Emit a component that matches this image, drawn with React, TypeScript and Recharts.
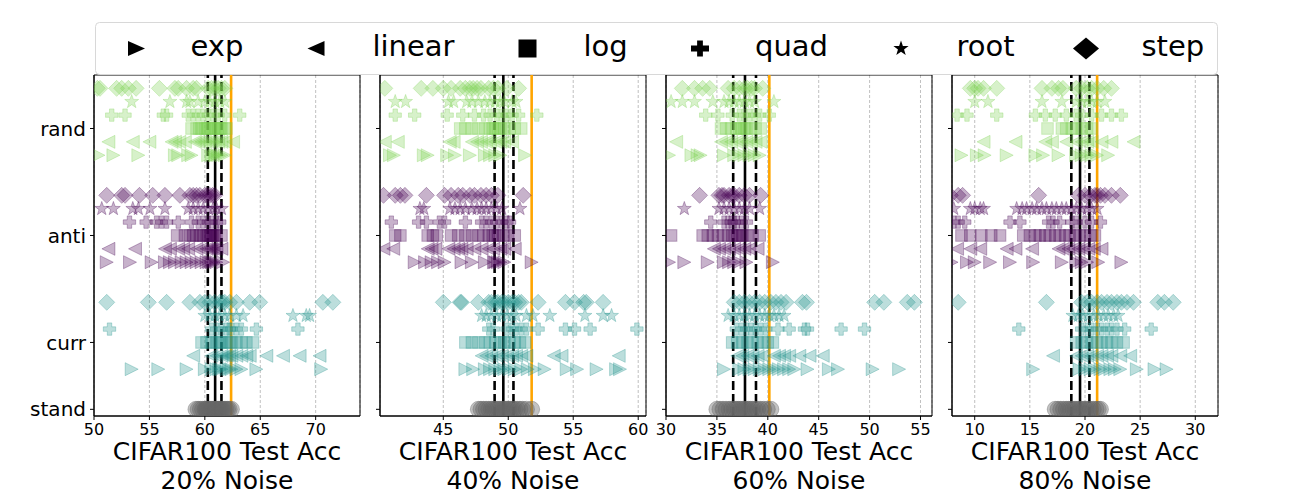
/* Strip plots of CIFAR100 test accuracy per curriculum ordering and pacing function */

import {
  ScatterChart,
  Scatter,
  XAxis,
  YAxis,
  CartesianGrid,
  ReferenceLine,
  ReferenceArea,
} from "recharts";

const FONT = "'DejaVu Sans', sans-serif";

// schedule order inside each group, bottom to top
const SCHEDULES = ["exp", "linear", "log", "quad", "root", "step"];
const ROW_OFFSET = [-2, -1, 0, 1, 2, 3];
const GROUP_CENTER = [21, 13, 5]; // rand, anti, curr
const GROUP_COLOR = ["#7ad151", "#440154", "#21918c"];
const STAND_COLOR = "#666666";
const Y_TICKS = [0, 5, 13, 21];
const Y_LABELS = ["stand", "curr", "anti", "rand"];

const NOISE_LEVELS = ["20%", "40%", "60%", "80%"];
const X_DOMAINS = [
  [50, 74],
  [40.13, 60.6],
  [30, 56.13],
  [7.94, 32.06],
];
const X_TICKS = [
  [50, 55, 60, 65, 70],
  [45, 50, 55, 60],
  [30, 35, 40, 45, 50, 55],
  [10, 15, 20, 25, 30],
];

// standard training: mean, mean - std, mean + std, best
const STAND_MEAN = [60.93, 49.62, 37.76, 19.55];
const STAND_LOW = [60.27, 48.95, 36.6, 18.76];
const STAND_HIGH = [61.5, 50.4, 38.84, 20.4];
const BEST = [62.37, 51.8, 40.15, 21.1];

// ---- 20% noise ---- rows: exp, linear, log, quad, root, step
const RAND_20 = [
  [50.4, 51.75, 54.0, 57.3, 57.6, 58.5, 58.8, 60.3, 60.6, 60.9, 61.0, 61.2, 61.5, 61.8],
  [51.3, 53.5, 55.0, 57.0, 57.3, 57.7, 58.2, 59.1, 59.4, 59.7, 60.0, 60.3, 60.6, 60.9, 61.2, 61.5, 61.8, 62.55],
  [58.8, 59.25, 59.5, 59.7, 60.0, 60.2, 60.3, 60.6, 60.8, 60.9, 61.2, 61.4, 61.5, 61.8, 61.95],
  [51.6, 52.8, 56.25, 56.55, 58.5, 58.95, 59.4, 59.85, 60.3, 60.75, 61.2, 61.8, 63.15],
  [53.4, 56.85, 58.35, 58.65, 59.4, 60.0, 60.45, 60.9, 61.35, 61.8],
  [50.3, 50.54, 52.04, 52.5, 53.1, 53.8, 55.9, 57.3, 57.6, 58.35, 58.95, 59.25, 60.3, 60.6, 60.9, 61.2, 61.5, 61.8],
];
const ANTI_20 = [
  [51.15, 53.25, 55.2, 56.4, 56.85, 57.3, 57.9, 58.35, 58.8, 59.25, 59.7, 60.15, 60.4, 60.6, 60.8, 61.05, 61.65],
  [51.3, 53.7, 56.4, 56.85, 57.6, 58.05, 58.5, 59.25, 59.7, 60.15, 60.4, 60.6, 60.8, 61.05, 61.5],
  [57.5, 58.2, 58.65, 58.95, 59.25, 59.55, 59.85, 60.15, 60.3, 60.45, 60.6, 60.75, 60.9, 61.05, 61.5],
  [53.2, 54.7, 55.65, 56.1, 56.55, 57.6, 58.8, 59.4, 59.85, 60.3, 60.6, 61.05, 61.35],
  [50.7, 51.75, 53.5, 54.0, 55.05, 56.4, 58.5, 58.95, 59.4, 59.85, 60.3, 60.75, 61.05, 61.5],
  [51.15, 52.5, 52.8, 54.1, 55.3, 56.4, 57.75, 58.65, 58.95, 59.25, 59.55, 60.0, 60.2, 60.45, 60.7, 60.9],
];
const CURR_20 = [
  [53.4, 55.8, 58.35, 60.0, 60.6, 61.05, 61.3, 61.5, 61.95, 62.2, 62.4, 62.85, 63.3, 64.65, 70.5],
  [58.95, 60.6, 61.05, 61.5, 61.8, 61.95, 62.2, 62.4, 62.85, 63.3, 63.75, 64.05, 65.55, 67.05, 68.55, 70.35],
  [59.7, 60.15, 60.6, 61.05, 61.3, 61.5, 61.95, 62.2, 62.4, 62.85, 63.3, 63.75, 64.35],
  [51.4, 60.6, 61.05, 61.5, 61.95, 62.2, 62.4, 62.85, 63.3, 64.65, 68.4],
  [60.0, 60.45, 60.9, 61.35, 61.8, 62.25, 62.85, 63.45, 67.95, 69.15, 69.45],
  [51.15, 54.9, 56.55, 58.65, 59.55, 60.0, 60.45, 60.9, 61.35, 61.6, 61.8, 62.25, 62.85, 64.05, 64.95, 70.65, 71.55],
];
const STAND_20 = [
  59.2, 59.4, 59.6, 59.8, 60.0, 60.1, 60.2, 60.35, 60.5, 60.6, 60.7, 60.8, 60.9, 61.0,
  61.1, 61.2, 61.3, 61.4, 61.5, 61.6, 61.75, 61.9, 62.05, 62.2, 62.4,
];

// ---- 40% noise ----
const RAND_40 = [
  [40.9, 41.2, 43.5, 43.8, 45.3, 45.9, 47.05, 48.2, 48.6, 49.0, 49.4, 51.3],
  [40.5, 41.5, 45.5, 45.8, 47.2, 47.6, 47.9, 48.3, 48.6, 49.0, 49.4, 49.7, 50.3],
  [46.3, 46.7, 47.2, 47.7, 48.2, 48.6, 48.8, 49.0, 49.2, 49.4, 49.7, 50.1, 50.5, 51.0],
  [41.3, 42.8, 45.3, 46.5, 47.4, 48.1, 48.6, 49.1, 49.5, 49.9, 50.3, 50.8, 52.2],
  [41.3, 42.1, 45.4, 45.8, 46.8, 47.2, 47.7, 48.2, 48.6, 49.0, 49.4, 49.7, 50.3, 50.6],
  [40.5, 43.3, 44.2, 45.0, 45.6, 46.3, 46.7, 47.05, 47.3, 47.6, 47.9, 48.5, 48.85, 49.2, 49.9, 50.8],
];
const ANTI_40 = [
  [42.8, 43.6, 44.1, 44.6, 45.1, 46.4, 47.2, 48.2, 48.9, 49.0, 49.2, 49.4, 49.7, 51.8],
  [40.4, 41.15, 43.8, 44.1, 44.4, 45.4, 45.8, 46.15, 46.4, 46.8, 47.4, 47.95, 48.5, 48.85, 49.4, 49.7, 50.5],
  [41.3, 41.7, 43.8, 44.2, 44.5, 45.6, 46.15, 46.7, 47.2, 47.7, 48.1, 48.5, 48.8, 49.0, 49.2, 49.6, 50.0, 50.5],
  [41.0, 43.1, 43.7, 44.7, 45.1, 46.7, 47.95, 48.3, 48.7, 49.1, 49.5, 49.9, 50.1],
  [43.2, 43.5, 45.5, 45.9, 46.3, 46.7, 47.2, 47.6, 47.95, 48.3, 48.7, 49.1, 49.5, 50.9],
  [40.4, 41.3, 41.7, 42.05, 43.7, 45.1, 45.6, 46.15, 46.5, 47.05, 47.4, 47.9, 48.3, 48.7, 49.2, 51.15],
];
const CURR_40 = [
  [46.7, 47.3, 48.2, 48.6, 49.0, 49.4, 49.7, 50.1, 50.5, 51.0, 51.5, 52.05, 52.8, 54.5, 55.3, 56.8, 58.3, 58.6],
  [47.95, 48.3, 48.7, 49.1, 49.5, 49.9, 50.3, 50.6, 51.0, 51.4, 53.5, 54.1, 58.5],
  [46.7, 47.2, 47.7, 48.2, 48.6, 49.0, 49.4, 49.7, 50.1, 50.5, 50.9, 51.3],
  [48.5, 48.85, 49.9, 50.3, 50.6, 51.0, 51.4, 52.3, 54.4, 55.1, 56.3, 59.9],
  [47.95, 48.3, 48.7, 49.1, 49.5, 49.9, 50.3, 50.6, 51.4, 51.9, 53.2, 55.9, 57.3, 57.95],
  [45.0, 46.3, 46.4, 47.7, 48.5, 48.7, 49.0, 49.2, 49.5, 49.7, 50.0, 50.3, 50.5, 50.8, 51.0, 52.3, 54.4, 55.1, 55.8, 56.0, 57.3],
];
const STAND_40 = [
  47.7, 47.9, 48.1, 48.3, 48.5, 48.7, 48.85, 49.0, 49.15, 49.3, 49.45, 49.6, 49.75,
  49.9, 50.05, 50.2, 50.35, 50.5, 50.7, 50.9, 51.1, 51.4, 51.8,
];

// ---- 60% noise ----
const RAND_60 = [
  [30.3, 32.5, 33.1, 33.4, 35.7, 36.7, 37.2, 37.7, 38.2, 38.7, 39.2],
  [31.0, 35.4, 35.9, 36.4, 36.9, 37.4, 37.9, 38.35, 38.8, 39.3],
  [35.4, 35.9, 36.4, 36.9, 37.2, 37.4, 37.7, 37.9, 38.35, 38.8, 39.3],
  [33.9, 35.1, 36.5, 37.2, 37.7, 38.2, 38.7, 39.2, 40.15],
  [30.5, 31.6, 32.8, 34.6, 35.7, 36.2, 36.7, 37.2, 37.7, 38.2, 38.7, 40.6],
  [31.6, 32.8, 33.6, 34.3, 36.1, 36.7, 37.2, 37.7, 38.0, 38.4, 38.7, 39.5],
];
const ANTI_60 = [
  [30.3, 31.8, 34.1, 35.7, 36.2, 36.7, 37.2, 37.9, 40.5],
  [34.7, 35.2, 35.7, 36.2, 36.7, 37.2, 37.7, 38.2, 39.0],
  [30.5, 33.6, 34.1, 34.6, 35.1, 35.6, 36.1, 36.5, 36.8, 37.0, 37.3, 37.5, 38.0, 38.5, 39.2],
  [34.4, 35.7, 36.1, 36.4, 36.7, 37.0, 37.4, 37.9],
  [31.8, 35.2, 35.7, 36.2, 36.7, 37.2, 37.7, 38.2, 39.2],
  [33.3, 35.2, 35.5, 35.7, 36.2, 36.5, 36.7, 37.2, 37.7, 38.2, 39.3],
];
const CURR_60 = [
  [35.7, 37.2, 37.7, 38.2, 38.7, 39.2, 39.7, 40.15, 40.6, 41.1, 41.6, 42.1, 42.6, 43.9, 46.0, 46.9, 50.3, 52.9],
  [37.0, 37.5, 38.0, 38.5, 39.0, 39.5, 40.6, 41.1, 41.6, 42.1, 43.1, 44.1, 45.4],
  [36.5, 37.0, 37.5, 38.0, 38.5, 39.0, 39.5, 40.0, 40.5],
  [36.9, 37.4, 37.9, 38.35, 38.8, 39.3, 39.8, 41.0, 42.1, 43.6, 43.9, 47.2, 49.5],
  [36.1, 36.7, 37.2, 37.7, 38.2, 38.7, 39.2, 39.7, 40.15, 40.6, 41.1, 41.6],
  [36.7, 37.2, 37.7, 38.2, 38.7, 39.2, 39.7, 40.3, 40.8, 41.3, 41.8, 43.4, 43.8, 50.5, 51.4, 53.7, 54.4],
];
const STAND_60 = [
  35.0, 35.3, 35.6, 35.9, 36.2, 36.45, 36.7, 36.9, 37.1, 37.3, 37.5, 37.7, 37.9, 38.1,
  38.3, 38.5, 38.75, 39.0, 39.3, 39.6, 39.95, 40.3,
];

// ---- 80% noise ----
const RAND_80 = [
  [8.8, 10.2, 10.9, 12.9, 15.5, 16.2, 17.6, 19.2, 19.7, 20.2, 20.6, 21.1, 22.1],
  [10.8, 13.7, 16.4, 17.0, 18.3, 19.2, 19.7, 20.2, 20.6, 21.5, 22.4, 24.4],
  [16.6, 17.9, 18.3, 18.8, 19.2, 19.7, 20.2, 20.6],
  [8.4, 9.3, 12.0, 15.5, 16.4, 17.3, 18.3, 19.2, 19.7, 20.6, 21.5, 22.4, 23.3],
  [10.0, 11.2, 16.1, 17.9, 19.2, 19.7, 20.2, 20.6, 21.1, 21.8],
  [9.6, 10.0, 10.3, 10.8, 12.0, 16.1, 17.0, 17.6, 18.0, 19.2, 19.7, 20.2, 20.6, 21.1, 21.7, 22.4],
];
const ANTI_80 = [
  [7.9, 9.3, 10.0, 11.4, 13.2, 15.3, 17.9, 19.2, 19.7, 20.2, 21.2, 23.3],
  [8.4, 9.6, 10.5, 12.9, 13.7, 15.2, 17.6, 18.0, 18.5, 18.9, 19.4, 19.8, 20.3, 20.8, 21.5],
  [8.8, 9.6, 10.6, 11.5, 12.3, 14.4, 15.0, 15.5, 15.9, 16.4, 16.8, 17.3, 17.7, 18.2, 18.6, 19.1, 19.5, 20.0, 20.5, 20.9],
  [8.1, 8.5, 9.1, 13.2, 14.1, 16.7, 17.1, 17.7, 18.8, 19.2, 20.0, 20.6, 21.4],
  [8.1, 9.6, 10.0, 10.5, 10.8, 13.8, 14.3, 14.7, 15.2, 15.6, 16.1, 16.5, 17.0, 17.4, 17.9, 18.3, 18.8, 19.2, 19.7, 20.2, 20.6, 21.1],
  [7.8, 8.5, 8.9, 15.8, 19.4, 20.0, 20.5, 20.9, 21.1, 21.4, 21.8, 22.4, 23.2],
];
const CURR_80 = [
  [15.3, 19.5, 20.0, 20.5, 20.9, 21.4, 21.8, 22.3, 22.7, 23.2, 24.7, 26.3, 27.4],
  [17.1, 19.2, 19.7, 20.2, 20.6, 21.1, 21.5, 22.0, 22.4, 23.2, 24.1],
  [19.2, 19.7, 20.2, 20.6, 21.1, 21.5, 22.0, 22.4, 22.9, 23.5],
  [14.0, 19.7, 20.2, 20.6, 21.1, 21.5, 22.0, 22.4, 22.9, 23.6, 26.0],
  [18.9, 19.4, 19.8, 20.3, 20.8, 21.2, 21.7, 22.1, 22.6, 23.0],
  [8.5, 16.5, 19.7, 20.2, 20.6, 21.1, 21.5, 22.0, 22.4, 22.9, 23.3, 23.8, 24.4, 26.6, 27.2, 28.0],
];
const STAND_80 = [
  17.3, 17.55, 17.8, 18.05, 18.3, 18.5, 18.7, 18.9, 19.1, 19.3, 19.5, 19.7, 19.9,
  20.1, 20.3, 20.5, 20.75, 21.0, 21.2, 21.4,
];

const RAND = [RAND_20, RAND_40, RAND_60, RAND_80];
const ANTI = [ANTI_20, ANTI_40, ANTI_60, ANTI_80];
const CURR = [CURR_20, CURR_40, CURR_60, CURR_80];
const STAND = [STAND_20, STAND_40, STAND_60, STAND_80];

// layout
const PLOT_LEFT = [94, 380, 666, 952];
const PLOT_W = 266;
const PLOT_TOP = 75;
const PLOT_H = 341;
const AXIS_W = 90;
const ALPHA = 0.3;

function starPoints(cx: number, cy: number, R: number, r: number) {
  const pts: string[] = [];
  for (let i = 0; i < 10; i++) {
    const a = (-90 + i * 36) * (Math.PI / 180);
    const rad = i % 2 === 0 ? R : r;
    pts.push(`${cx + rad * Math.cos(a)},${cy + rad * Math.sin(a)}`);
  }
  return pts.join(" ");
}

function plusPoints(cx: number, cy: number, bx: number, by: number, a: number) {
  const p = [
    [-a, -by], [a, -by], [a, -a], [bx, -a], [bx, a], [a, a],
    [a, by], [-a, by], [-a, a], [-bx, a], [-bx, -a], [-a, -a],
  ];
  return p.map(([x, y]) => `${cx + x},${cy + y}`).join(" ");
}

// marker glyph; w/h are half sizes
function glyph(kind: string, cx: number, cy: number, w: number, h: number, style: any) {
  switch (kind) {
    case "exp":
      return <polygon points={`${cx - w},${cy - h} ${cx + w},${cy} ${cx - w},${cy + h}`} {...style} />;
    case "linear":
      return <polygon points={`${cx + w},${cy - h} ${cx - w},${cy} ${cx + w},${cy + h}`} {...style} />;
    case "log":
      return <rect x={cx - w} y={cy - h} width={2 * w} height={2 * h} {...style} />;
    case "quad":
      return <polygon points={plusPoints(cx, cy, w, h, h * 0.36)} {...style} />;
    case "root":
      return <polygon points={starPoints(cx, cy, h, h * 0.4)} {...style} />;
    case "step":
      return <polygon points={`${cx},${cy - h} ${cx + w},${cy} ${cx},${cy + h} ${cx - w},${cy}`} {...style} />;
    default:
      return <circle cx={cx} cy={cy} r={h} {...style} />;
  }
}

const PLOT_SIZE: Record<string, [number, number]> = {
  exp: [6.5, 6.5],
  linear: [6.5, 6.5],
  log: [5.8, 5.8],
  quad: [6.2, 6.2],
  root: [7.3, 7.3],
  step: [8, 8],
  stand: [8, 8],
};

function makeShape(kind: string, color: string, alpha: number) {
  const [w, h] = PLOT_SIZE[kind];
  const style = {
    fill: color,
    fillOpacity: alpha,
    stroke: color,
    strokeOpacity: alpha,
    strokeWidth: 1,
  };
  return (p: any) => glyph(kind, p.cx, p.cy, w, h, style);
}

function Panel({ idx }: { idx: number }) {
  const groups = [RAND[idx], ANTI[idx], CURR[idx]];
  const series: { key: string; kind: string; color: string; data: { x: number; y: number }[] }[] = [];
  groups.forEach((rows, gi) => {
    SCHEDULES.forEach((kind, si) => {
      series.push({
        key: `${gi}-${kind}`,
        kind,
        color: GROUP_COLOR[gi],
        data: rows[si].map((x) => ({ x, y: GROUP_CENTER[gi] + ROW_OFFSET[si] })),
      });
    });
  });
  const standData = STAND[idx].map((x) => ({ x, y: 0 }));
  const [x0, x1] = X_DOMAINS[idx];
  const tickStyle = { fontSize: 16, fill: "#000", fontFamily: FONT };

  return (
    <div
      style={{
        position: "absolute",
        left: PLOT_LEFT[idx] - AXIS_W,
        top: PLOT_TOP - 5,
      }}
    >
      <ScatterChart
        width={AXIS_W + PLOT_W + 6}
        height={5 + PLOT_H + 30}
        margin={{ top: 5, right: 6, bottom: 0, left: 0 }}
      >
        <CartesianGrid horizontal={false} stroke="#b0b0b0" strokeDasharray="3 2" strokeWidth={0.8} />
        <XAxis
          type="number"
          dataKey="x"
          domain={[x0, x1]}
          ticks={X_TICKS[idx]}
          allowDataOverflow
          height={30}
          tick={tickStyle}
          tickSize={4}
          tickMargin={4}
          axisLine={{ stroke: "#000" }}
          tickLine={{ stroke: "#000" }}
        />
        <YAxis
          type="number"
          dataKey="y"
          domain={[-0.5, 25]}
          ticks={Y_TICKS}
          allowDataOverflow
          width={AXIS_W}
          tick={{ fontSize: 20, fill: "#000", fontFamily: FONT }}
          tickFormatter={(v: number) => (idx === 0 ? Y_LABELS[Y_TICKS.indexOf(v)] : "")}
          tickSize={4}
          tickMargin={4}
          axisLine={{ stroke: "#000" }}
          tickLine={{ stroke: "#000" }}
        />
        <Scatter
          data={standData}
          shape={makeShape("stand", STAND_COLOR, 0.4)}
          isAnimationActive={false}
        />
        {series.map((s) => (
          <Scatter
            key={s.key}
            data={s.data}
            shape={makeShape(s.kind, s.color, ALPHA)}
            isAnimationActive={false}
          />
        ))}
        <ReferenceLine x={STAND_LOW[idx]} stroke="#000" strokeWidth={2.6} strokeDasharray="9 4" />
        <ReferenceLine x={STAND_HIGH[idx]} stroke="#000" strokeWidth={2.6} strokeDasharray="9 4" />
        <ReferenceLine x={STAND_MEAN[idx]} stroke="#000" strokeWidth={2.6} />
        <ReferenceLine x={BEST[idx]} stroke="#ffa500" strokeWidth={2.6} />
        <ReferenceArea
          x1={x0}
          x2={x1}
          y1={-0.5}
          y2={25}
          fill="none"
          fillOpacity={0}
          stroke="#000"
          strokeWidth={1}
        />
      </ScatterChart>
    </div>
  );
}

const LEGEND_X = [136.5, 316, 527.5, 700, 901, 1086];
const LEGEND_TEXT_X = [190.5, 372.5, 583.5, 755, 956.5, 1141.5];
const LEGEND_SIZE: [number, number][] = [
  [8.5, 7.5],
  [8.5, 7.5],
  [9, 9],
  [9, 8],
  [8.5, 8],
  [13, 11],
];

function Legend() {
  const style = { fill: "#000" };
  return (
    <svg
      width={1296}
      height={80}
      style={{ position: "absolute", left: 0, top: 0 }}
    >
      <rect
        x={95.5}
        y={22.5}
        width={1122}
        height={52}
        rx={4}
        fill="#fff"
        fillOpacity={0.85}
        stroke="#d8d8d8"
      />
      {SCHEDULES.map((kind, i) => (
        <g key={kind}>
          {glyph(kind, LEGEND_X[i], 48.5, LEGEND_SIZE[i][0], LEGEND_SIZE[i][1], style)}
          <text x={LEGEND_TEXT_X[i]} y={56} fontSize={29} fontFamily={FONT} fill="#000">
            {kind}
          </text>
        </g>
      ))}
    </svg>
  );
}

export default function App() {
  return (
    <div
      style={{
        position: "absolute",
        left: 0,
        top: 0,
        width: 1296,
        height: 504,
        background: "#fff",
        fontFamily: FONT,
      }}
    >
      {NOISE_LEVELS.map((_, i) => (
        <Panel key={i} idx={i} />
      ))}
      {NOISE_LEVELS.map((n, i) => (
        <div
          key={n}
          style={{
            position: "absolute",
            left: PLOT_LEFT[i] + PLOT_W / 2 - 160,
            top: 437,
            width: 320,
            textAlign: "center",
            fontSize: 25,
            lineHeight: "29px",
            color: "#000",
          }}
        >
          CIFAR100 Test Acc
          <br />
          {n} Noise
        </div>
      ))}
      <Legend />
    </div>
  );
}
